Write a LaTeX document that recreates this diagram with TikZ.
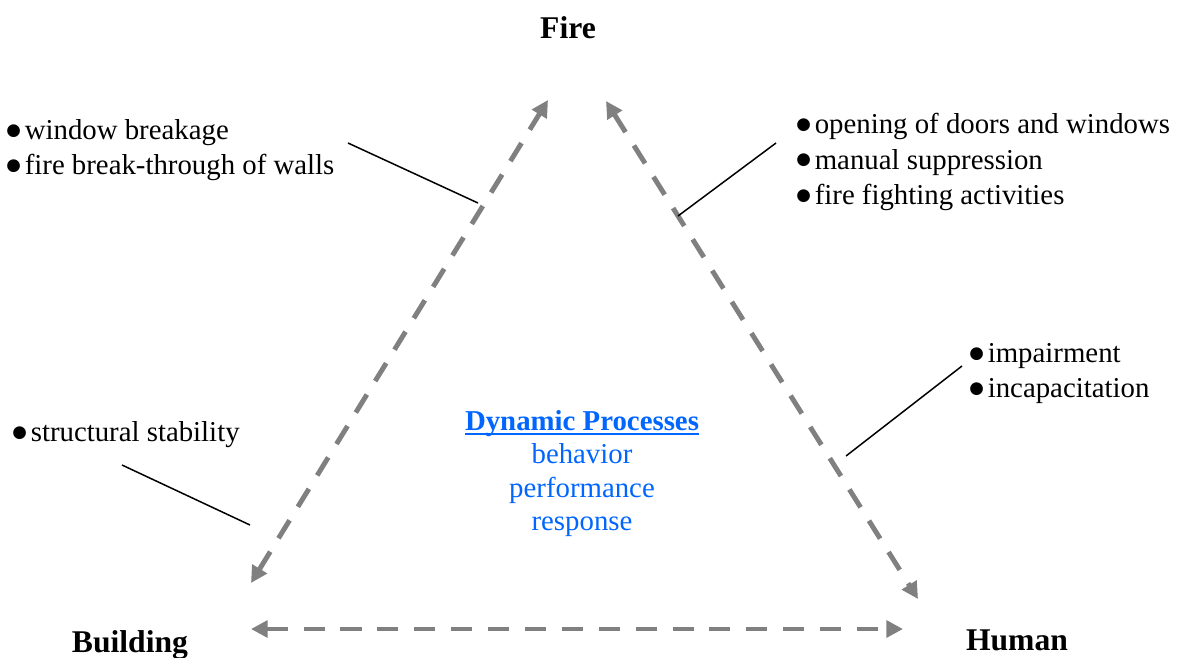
\documentclass[tikz,border=0pt]{standalone}
\usepackage{fontspec}
\setmainfont{Liberation Serif}
\newfontfamily\symfont{DejaVu Sans}
\usepackage{xcolor}
\usetikzlibrary{arrows.meta, positioning}
\definecolor{dynblue}{RGB}{0,102,255}
\newcommand{\itm}{\makebox[10.5pt][l]{\raisebox{2.4pt}{\symfont\fontsize{9.5}{0}\selectfont ●}}}
\newcommand{\uln}[1]{\setbox0\hbox{#1}\rlap{\rule[-2.8pt]{\wd0}{1.2pt}}\box0}

\begin{document}
\begin{tikzpicture}[x=0.02cm, y=-0.02cm,
    font=\fontsize{16.4}{20.2}\selectfont,
    corner/.style={font=\fontsize{18}{21}\selectfont\bfseries, inner sep=0pt, anchor=base},
    note/.style={align=left, inner sep=0pt, anchor=north west},
    link/.style={black!50, line width=2.8pt, dash pattern=on 12pt off 9pt,
                 {Triangle[length=9.5pt,width=9.5pt]}-{Triangle[length=9.5pt,width=9.5pt]}},
    lead/.style={black, line width=0.85pt}]

    \useasboundingbox (0,0) rectangle (1184,657);

    % corners
    \node[corner] (fire)  at (568,38)  {Fire};
    \node[corner] (bldg)  at (130,652) {Building};
    \node[corner] (human) at (1017,650) {Human};

    % arrow ends
    \coordinate (fireL)  at (548,100);
    \coordinate (fireR)  at (606,101);
    \coordinate (bldgT)  at (251,583);
    \coordinate (bldgR)  at (251,629);
    \coordinate (humT)   at (918,599);
    \coordinate (humL)   at (903,629);

    \draw[link] (bldgT) -- (fireL);
    \draw[link] (fireR) -- (humT);
    \draw[link] (bldgR) -- (humL);

    % centre
    \node[align=center, inner sep=0pt, anchor=north, text=dynblue,
          font=\fontsize{16.4}{19}\selectfont] (dyn) at (582,410)
      {\textbf{\uln{Dynamic Processes}}\\behavior\\performance\\response};

    % notes
    \node[note] (nwin) at (6,119)
      {\itm window breakage\\\itm fire break-through of walls};
    \node[note] (nopen) at (796,113)
      {\itm opening of doors and windows\\\itm manual suppression\\\itm fire fighting activities};
    \node[note] (nimp) at (969,343)
      {\itm impairment\\\itm incapacitation};
    \node[note] (nstr) at (12,421)
      {\itm structural stability};

    % leads
    \coordinate (win-a) at (348,143);  \coordinate (win-b) at (478,203);
    \coordinate (open-a) at (776,143); \coordinate (open-b) at (678,216);
    \coordinate (imp-a) at (962,366);  \coordinate (imp-b) at (846,456);
    \coordinate (str-a) at (122,465);  \coordinate (str-b) at (250,525);
    \draw[lead] (win-a) -- (win-b);
    \draw[lead] (open-a) -- (open-b);
    \draw[lead] (imp-a) -- (imp-b);
    \draw[lead] (str-a) -- (str-b);
\end{tikzpicture}
\end{document}
